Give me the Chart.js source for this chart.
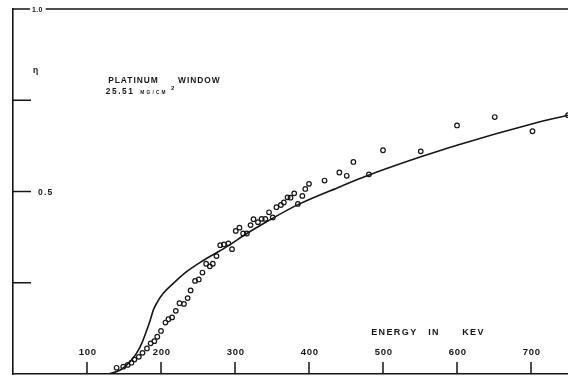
<!DOCTYPE html>
<html>
<head>
<meta charset="utf-8">
<script src="https://cdn.jsdelivr.net/npm/chart.js"></script>
<style>
  html, body { margin: 0; padding: 0; background: #fff; }
</style>
</head>
<body>
<canvas id="etaChart" width="568" height="376"></canvas>
<script>
// measured points (open circles), energy in keV and efficiency eta
const measEnergy = [140, 149, 155, 160, 164, 170, 175, 181, 186, 191, 195, 200, 206, 210, 215, 220, 225, 231,
  236, 240, 246, 251, 256, 261, 266, 270, 275, 280, 285, 291, 296, 301, 306, 311, 316, 321, 325, 331,
  336, 341, 346, 351, 356, 362, 366, 371, 375, 380, 385, 391, 395, 400, 421, 441, 451, 460, 481, 500,
  551, 600, 651, 702, 750];
const measEta = [0.017, 0.020, 0.025, 0.031, 0.040, 0.047, 0.058, 0.070, 0.084, 0.090, 0.102, 0.118, 0.141,
  0.150, 0.155, 0.173, 0.194, 0.192, 0.208, 0.229, 0.255, 0.259, 0.278, 0.302, 0.295, 0.302, 0.323,
  0.353, 0.355, 0.358, 0.342, 0.392, 0.401, 0.385, 0.385, 0.408, 0.424, 0.416, 0.425, 0.425, 0.443,
  0.429, 0.457, 0.463, 0.470, 0.484, 0.483, 0.495, 0.466, 0.488, 0.507, 0.521, 0.530, 0.552, 0.543,
  0.581, 0.547, 0.613, 0.610, 0.681, 0.704, 0.665, 0.709];

// calculated curve
const curveEnergy = [129, 145, 158, 167, 174, 181, 185.5, 190, 195, 203, 217, 235, 253, 289, 316, 334, 385,
  443, 481, 551, 600, 701, 750];
const curveEta = [0.0, 0.011, 0.033, 0.057, 0.084, 0.121, 0.148, 0.177, 0.197, 0.221, 0.249, 0.281, 0.306,
  0.349, 0.385, 0.407, 0.464, 0.514, 0.545, 0.595, 0.627, 0.685, 0.709];

const xTicks = [100, 200, 300, 400, 500, 600, 700];
const xTickLabels = ['100', '200', '300', '400', '500', '600', '700'];
const yTicks = [0.25, 0.5, 0.75];
const yTickLabels = ['', '0.5', ''];

const ink = '#151515';
const letterFont = '"Liberation Sans", Arial, sans-serif';

function spaced(ctx, text, px, py, gap) {
  // canvas letterSpacing is not everywhere, so fall back to plain text
  if ('letterSpacing' in ctx) {
    ctx.letterSpacing = gap + 'px';
    ctx.fillText(text, px, py);
    ctx.letterSpacing = '0px';
  } else {
    ctx.fillText(text, px, py);
  }
}

const paperMarks = {
  id: 'paperMarks',
  afterDraw(chart) {
    const { ctx, chartArea: a, scales: { x, y } } = chart;
    ctx.save();
    ctx.strokeStyle = ink;
    ctx.fillStyle = ink;
    ctx.lineWidth = 1.5;
    ctx.textBaseline = 'alphabetic';

    // top rule at 1.0, broken by its label
    const topY = y.getPixelForValue(1.0);
    ctx.beginPath();
    ctx.moveTo(a.left, topY);
    ctx.lineTo(a.right, topY);
    ctx.stroke();
    ctx.font = 'bold 7px ' + letterFont;
    ctx.textAlign = 'left';
    const lx = a.left + 19;
    const w = ctx.measureText('1.0').width + 4;
    ctx.fillStyle = '#fff';
    ctx.fillRect(lx - 2, topY - 4, w + 2, 8);
    ctx.fillStyle = ink;
    spaced(ctx, '1.0', lx, topY + 3.2, 0.3);

    // y ticks point into the plot
    ctx.font = 'bold 8.5px ' + letterFont;
    yTicks.forEach((v, i) => {
      const py = y.getPixelForValue(v);
      ctx.beginPath();
      ctx.moveTo(a.left, py);
      ctx.lineTo(a.left + 18, py);
      ctx.stroke();
      if (yTickLabels[i]) spaced(ctx, yTickLabels[i], a.left + 25, py + 3.3, 1.2);
    });

    // x ticks stand up from the axis, numbers above them
    ctx.textAlign = 'center';
    ctx.font = 'bold 9.5px ' + letterFont;
    xTicks.forEach((v, i) => {
      const px = x.getPixelForValue(v);
      ctx.beginPath();
      ctx.moveTo(px, a.bottom);
      ctx.lineTo(px, a.bottom - 12);
      ctx.stroke();
      spaced(ctx, xTickLabels[i], px + 0.8, a.bottom - 19, 0.8);
    });

    // axis title
    ctx.textAlign = 'left';
    ctx.font = 'bold 9px ' + letterFont;
    const ty = y.getPixelForValue(0.107);
    spaced(ctx, 'ENERGY', x.getPixelForValue(484), ty, 1.4);
    spaced(ctx, 'IN', x.getPixelForValue(561), ty, 1.4);
    spaced(ctx, 'KEV', x.getPixelForValue(607), ty, 1.4);

    // eta symbol and window note
    ctx.font = 'bold 8.5px ' + letterFont;
    ctx.fillText('η', x.getPixelForValue(27), y.getPixelForValue(0.825));
    ctx.font = 'bold 8.4px ' + letterFont;
    spaced(ctx, 'PLATINUM', x.getPixelForValue(128.6), y.getPixelForValue(0.796), 1);
    spaced(ctx, 'WINDOW', x.getPixelForValue(223), y.getPixelForValue(0.796), 1);
    spaced(ctx, '25.51', x.getPixelForValue(125.5), y.getPixelForValue(0.766), 1.5);
    ctx.font = 'bold 4.8px ' + letterFont;
    spaced(ctx, 'MG/CM', x.getPixelForValue(172), y.getPixelForValue(0.767), 2.2);
    ctx.font = 'bold 6px ' + letterFont;
    ctx.fillText('2', x.getPixelForValue(213.4), y.getPixelForValue(0.778));
    ctx.restore();
  }
};

new Chart(document.getElementById('etaChart'), {
  type: 'scatter',
  data: {
    datasets: [
      {
        label: 'measured',
        data: measEnergy.map((e, i) => ({ x: e, y: measEta[i] })),
        showLine: false,
        pointRadius: 2.3,
        pointBorderWidth: 1.2,
        pointBorderColor: ink,
        pointBackgroundColor: 'rgba(255,255,255,0)'
      },
      {
        label: 'calculated',
        data: curveEnergy.map((e, i) => ({ x: e, y: curveEta[i] })),
        showLine: true,
        pointRadius: 0,
        borderColor: ink,
        borderWidth: 1.6,
        cubicInterpolationMode: 'monotone'
      }
    ]
  },
  options: {
    responsive: false,
    animation: false,
    layout: { autoPadding: false, padding: { left: 13, right: 0, top: 9, bottom: 2 } },
    plugins: { legend: { display: false }, tooltip: { enabled: false } },
    scales: {
      x: {
        type: 'linear', min: 0, max: 750,
        ticks: { display: false },
        grid: { display: false, drawTicks: false },
        border: { display: true, color: ink, width: 1.6 }
      },
      y: {
        type: 'linear', min: 0, max: 1.0,
        ticks: { display: false },
        grid: { display: false, drawTicks: false },
        border: { display: true, color: ink, width: 1.6 }
      }
    }
  },
  plugins: [paperMarks]
});
</script>
</body>
</html>
